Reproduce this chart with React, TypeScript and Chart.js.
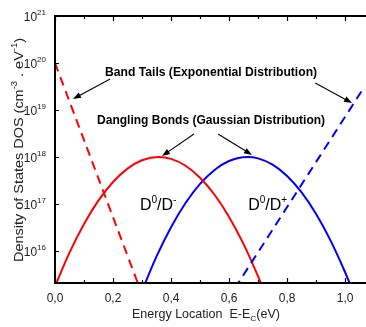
import React, { useEffect, useRef } from 'react';
import { Chart, registerables } from 'chart.js';

Chart.register(...registerables);

const FONT = '"Liberation Sans", Arial, Helvetica, sans-serif';

// ---- data ----
// Gaussian dangling-bond distribution D0/D-  (red, solid)
const energyDminus = [0.0, 0.05, 0.1, 0.15, 0.2, 0.25, 0.3, 0.357, 0.4, 0.45, 0.5, 0.55, 0.6, 0.65, 0.7, 0.72];
const dosDminus = [1.77e15, 9.2e15, 3.74e16, 1.19e17, 2.94e17, 5.66e17, 8.51e17, 1.0e18, 9.12e17, 6.5e17, 3.62e17, 1.57e17, 5.3e16, 1.4e16, 2.88e15, 1.43e15];

// Gaussian dangling-bond distribution D0/D+  (blue, solid)
const energyDplus = [0.3, 0.35, 0.4, 0.45, 0.5, 0.55, 0.6, 0.663, 0.7, 0.75, 0.8, 0.85, 0.9, 0.95, 1.0, 1.02];
const dosDplus = [1.43e15, 7.65e15, 3.21e16, 1.05e17, 2.67e17, 5.3e17, 8.21e17, 1.0e18, 9.34e17, 6.86e17, 3.93e17, 1.76e17, 6.12e16, 1.66e16, 3.52e15, 1.77e15];

// Exponential band tails (dashed)
const energyValenceTail = [0.0, 0.3];
const dosValenceTail = [1.0e20, 1.2e15];
const energyConductionTail = [0.62, 1.06];
const dosConductionTail = [1.6e15, 2.7e19];

// ---- axes ----
const xMajorTicks = [0, 0.2, 0.4, 0.6, 0.8, 1.0];
const xTickLabels = ['0,0', '0,2', '0,4', '0,6', '0,8', '1,0'];
const xMinorTicks = [0.1, 0.3, 0.5, 0.7, 0.9];
const yDecades = [1e16, 1e17, 1e18, 1e19, 1e20, 1e21];
const yExponents = ['16', '17', '18', '19', '20', '21'];
const X_MIN = 0;
const X_MAX = 1.072;
const Y_MIN = 2.08e15;
const Y_MAX = 1e21;

type Seg = { t: string; size: number; bold?: boolean; dy?: number };

function drawSegs(
  ctx: CanvasRenderingContext2D,
  segs: Seg[],
  x: number,
  y: number,
  align: 'left' | 'center' | 'right',
  targetWidth?: number
) {
  ctx.save();
  ctx.textBaseline = 'alphabetic';
  ctx.textAlign = 'left';
  const widths: number[] = [];
  let total = 0;
  for (const s of segs) {
    ctx.font = `${s.bold ? 'bold ' : ''}${s.size}px ${FONT}`;
    const w = ctx.measureText(s.t).width;
    widths.push(w);
    total += w;
  }
  const sx = targetWidth ? targetWidth / total : 1;
  const start = align === 'center' ? x - (total * sx) / 2 : align === 'right' ? x - total * sx : x;
  ctx.translate(start, y);
  ctx.scale(sx, 1);
  let cx = 0;
  segs.forEach((s, i) => {
    ctx.font = `${s.bold ? 'bold ' : ''}${s.size}px ${FONT}`;
    ctx.fillText(s.t, cx, s.dy || 0);
    cx += widths[i];
  });
  ctx.restore();
}

function arrow(ctx: CanvasRenderingContext2D, x1: number, y1: number, x2: number, y2: number) {
  const ang = Math.atan2(y2 - y1, x2 - x1);
  const len = 8;
  const half = 3;
  ctx.beginPath();
  ctx.moveTo(x1, y1);
  ctx.lineTo(x2 - Math.cos(ang) * len * 0.8, y2 - Math.sin(ang) * len * 0.8);
  ctx.stroke();
  ctx.beginPath();
  ctx.moveTo(x2, y2);
  ctx.lineTo(x2 - Math.cos(ang) * len - Math.sin(ang) * half, y2 - Math.sin(ang) * len + Math.cos(ang) * half);
  ctx.lineTo(x2 - Math.cos(ang) * len + Math.sin(ang) * half, y2 - Math.sin(ang) * len - Math.cos(ang) * half);
  ctx.closePath();
  ctx.fill();
}

const decorPlugin = {
  id: 'decor',
  afterDraw(chart: any) {
    const { ctx, chartArea: a, scales } = chart;
    const xs = scales.x;
    const ys = scales.y;
    const px = (v: number) => xs.getPixelForValue(v);
    const py = (lg: number) => ys.getPixelForValue(Math.pow(10, lg));
    ctx.save();
    ctx.strokeStyle = '#000';
    ctx.fillStyle = '#000';

    // frame lines (left, bottom, top)
    ctx.lineWidth = 2;
    ctx.beginPath();
    ctx.moveTo(a.left, a.top);
    ctx.lineTo(a.left, a.bottom);
    ctx.moveTo(a.left - 1, a.bottom);
    ctx.lineTo(a.right, a.bottom);
    ctx.moveTo(a.left - 1, a.top);
    ctx.lineTo(a.right, a.top);
    ctx.stroke();

    // inward ticks
    ctx.lineWidth = 1.2;
    ctx.beginPath();
    for (const v of xMajorTicks) {
      const p = Math.round(px(v)) + 0.5;
      ctx.moveTo(p, a.bottom);
      ctx.lineTo(p, a.bottom - 5);
      ctx.moveTo(p, a.top);
      ctx.lineTo(p, a.top + 5);
    }
    for (const v of xMinorTicks) {
      const p = Math.round(px(v)) + 0.5;
      ctx.moveTo(p, a.bottom);
      ctx.lineTo(p, a.bottom - 3);
      ctx.moveTo(p, a.top);
      ctx.lineTo(p, a.top + 3);
    }
    for (const v of yDecades) {
      const p = Math.round(ys.getPixelForValue(v)) + 0.5;
      ctx.moveTo(a.left, p);
      ctx.lineTo(a.left + 4, p);
    }
    ctx.stroke();

    // y tick labels 10^n
    ctx.fillStyle = '#222';
    yDecades.forEach((v, i) => {
      const p = ys.getPixelForValue(v);
      drawSegs(ctx, [
        { t: '10', size: 12 },
        { t: yExponents[i], size: 8, dy: -6 },
      ], a.left - 9, p + 5, 'right');
    });

    // axis titles
    drawSegs(ctx, [
      { t: 'Energy Location  E-E', size: 12 },
      { t: 'C', size: 8, dy: 3 },
      { t: '(eV)', size: 12 },
    ], 206, 318, 'center', 148);

    ctx.save();
    ctx.translate(23, 150);
    ctx.rotate(-Math.PI / 2);
    drawSegs(ctx, [
      { t: 'Density of States DOS (cm', size: 13 },
      { t: '-3', size: 8.5, dy: -6 },
      { t: ' . eV', size: 13 },
      { t: '-1', size: 8.5, dy: -6 },
      { t: ')', size: 13 },
    ], 0, 0, 'center', 224);
    ctx.restore();

    // annotations
    ctx.fillStyle = '#000';
    drawSegs(ctx, [{ t: 'Band Tails (Exponential Distribution)', size: 12, bold: true }], px(0.538), py(19.72), 'center', 212);
    drawSegs(ctx, [{ t: 'Dangling Bonds (Gaussian Distribution)', size: 12, bold: true }], px(0.538), py(18.7), 'center', 228);

    ctx.lineWidth = 1.1;
    arrow(ctx, px(0.19), py(19.66), px(0.062), py(19.234));
    arrow(ctx, px(0.897), py(19.574), px(1.024), py(19.149));
    arrow(ctx, px(0.479), py(18.49), px(0.369), py(18.021));
    arrow(ctx, px(0.562), py(18.49), px(0.679), py(18.043));

    drawSegs(ctx, [
      { t: 'D', size: 16 },
      { t: '0', size: 10, dy: -7 },
      { t: '/D', size: 16 },
      { t: '-', size: 10, dy: -7 },
    ], px(0.293), py(16.872), 'left');
    drawSegs(ctx, [
      { t: 'D', size: 16 },
      { t: '0', size: 10, dy: -7 },
      { t: '/D', size: 16 },
      { t: '+', size: 10, dy: -7 },
    ], px(0.666), py(16.872), 'left');

    ctx.restore();
  },
};

function pts(xs: number[], ys: number[]) {
  return xs.map((x, i) => ({ x, y: ys[i] }));
}

export default function App() {
  const ref = useRef<HTMLCanvasElement>(null);

  useEffect(() => {
    document.body.style.margin = '0';
    const canvas = ref.current!;
    const common = { pointRadius: 0, borderWidth: 2, fill: false, tension: 0 } as any;
    const chart = new Chart(canvas, {
      type: 'line',
      data: {
        datasets: [
          { ...common, data: pts(energyValenceTail, dosValenceTail), borderColor: '#ff0000', borderDash: [9, 6] },
          { ...common, data: pts(energyConductionTail, dosConductionTail), borderColor: '#0000ff', borderDash: [9, 6] },
          { ...common, data: pts(energyDminus, dosDminus), borderColor: '#ff0000', cubicInterpolationMode: 'monotone' },
          { ...common, data: pts(energyDplus, dosDplus), borderColor: '#0000ff', cubicInterpolationMode: 'monotone' },
        ],
      },
      options: {
        animation: false,
        responsive: false,
        devicePixelRatio: 1,
        layout: { padding: { top: 16, right: 0, left: 0, bottom: 0 } },
        plugins: { legend: { display: false }, tooltip: { enabled: false } },
        scales: {
          x: {
            type: 'linear',
            min: X_MIN,
            max: X_MAX,
            grid: { display: false },
            border: { display: false },
            ticks: {
              stepSize: 0.2,
              includeBounds: false,
              autoSkip: false,
              maxRotation: 0,
              padding: 0,
              color: '#222',
              font: { family: FONT, size: 12 },
              callback: (v: any) => {
                const i = xMajorTicks.findIndex((t) => Math.abs(t - Number(v)) < 1e-6);
                return i >= 0 ? xTickLabels[i] : '';
              },
            },
            afterFit: (s: any) => {
              s.height = 44;
            },
          },
          y: {
            type: 'logarithmic',
            min: Y_MIN,
            max: Y_MAX,
            grid: { display: false },
            border: { display: false },
            ticks: { display: false },
            afterFit: (s: any) => {
              s.width = 55;
            },
          },
        } as any,
      },
      plugins: [decorPlugin],
    });
    return () => chart.destroy();
  }, []);

  return (
    <div style={{ width: 366, height: 327, background: '#fff' }}>
      <canvas ref={ref} width={366} height={327} style={{ display: 'block' }} />
    </div>
  );
}
